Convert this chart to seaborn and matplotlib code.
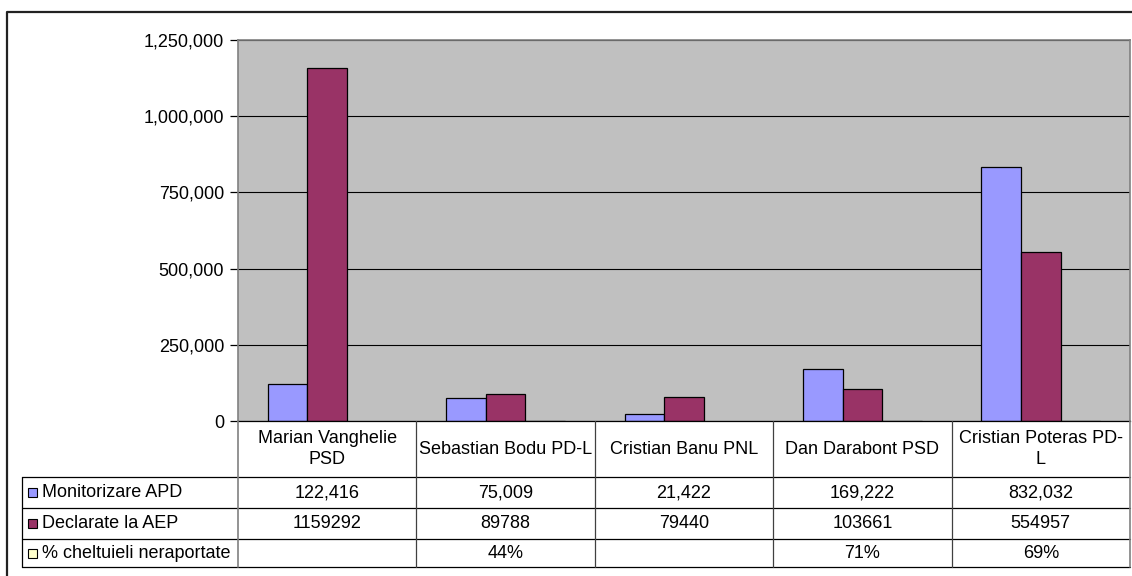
import matplotlib
matplotlib.use("Agg")
import matplotlib.pyplot as plt
from matplotlib.lines import Line2D
from matplotlib.patches import Rectangle
from matplotlib.ticker import FuncFormatter, MultipleLocator
from matplotlib.transforms import blended_transform_factory
import seaborn as sns
import pandas as pd
import numpy as np

# ---- data ----
candidates = ["Marian Vanghelie\nPSD", "Sebastian Bodu PD-L", "Cristian Banu PNL",
              "Dan Darabont PSD", "Cristian Poteras PD-\nL"]
series_names = ["Monitorizare APD", "Declarate la AEP", "% cheltuieli neraportate"]
monitorizare = [122416, 75009, 21422, 169222, 832032]
declarate = [1159292, 89788, 79440, 103661, 554957]
neraportate_pct = [np.nan, 44, np.nan, 71, 69]
colors = ["#9999FF", "#993366", "#FFFFCC"]

sns.set_theme(style="white")
plt.rcParams['font.family'] = ['Liberation Sans', 'DejaVu Sans']
FS = 13

W, H = 1132, 576
fig = plt.figure(figsize=(W / 100, H / 100), dpi=100)
fig.patch.set_facecolor("white")

def fx(x):
    return x / W

def fy(y):
    return 1 - y / H

ax_l, ax_r, ax_t, ax_b = 238, 1130, 40, 421
ax = fig.add_axes([fx(ax_l), fy(ax_b), fx(ax_r - ax_l), (ax_b - ax_t) / H])

rows = []
for i, c in enumerate(candidates):
    rows.append((c, series_names[0], monitorizare[i]))
    rows.append((c, series_names[1], declarate[i]))
    p = neraportate_pct[i]
    rows.append((c, series_names[2], p / 100 if not np.isnan(p) else np.nan))
df = pd.DataFrame(rows, columns=["cand", "series", "value"])

sns.barplot(data=df, x="cand", y="value", hue="series", order=candidates,
            hue_order=series_names, palette=colors, width=0.667,
            edgecolor="black", linewidth=0.9, saturation=1, ax=ax,
            legend=False, errorbar=None)

ax.set_facecolor("#C0C0C0")
ax.set_xlim(-0.5, len(candidates) - 0.5)
ax.set_ylim(0, 1250000)
ax.yaxis.set_major_locator(MultipleLocator(250000))
ax.yaxis.set_major_formatter(FuncFormatter(lambda v, p: f"{int(v):,}"))
ax.grid(axis="y", color="black", linewidth=0.8)
ax.set_axisbelow(True)
ax.set_xticks([])
ax.set_xlabel("")
ax.set_ylabel("")
ax.tick_params(axis="y", left=True, length=6, width=0.9, color="black",
               labelsize=FS, pad=4, labelcolor="black")
for s in ["top", "right"]:
    ax.spines[s].set_color("#808080")
    ax.spines[s].set_linewidth(1.2)
ax.spines["left"].set_color("#808080")
ax.spines["left"].set_linewidth(1.2)
ax.spines["bottom"].set_color("black")
ax.spines["bottom"].set_linewidth(0.9)

# ---- data table ----
tr = blended_transform_factory(ax.transData, fig.transFigure)
tab_left = 22
row_lines = [477, 508, 539, 567]
hdr_top = 421

for y in row_lines:
    fig.add_artist(Line2D([fx(tab_left), fx(ax_r)], [fy(y), fy(y)], color="black", lw=0.9))
n = len(candidates)
for k in range(n + 1):
    xb = k - 0.5
    fig.add_artist(Line2D([xb, xb], [fy(hdr_top), fy(row_lines[-1])], transform=tr,
                          color="#808080" if k in (0, n) else "#404040",
                          lw=1.2 if k in (0, n) else 0.9))
fig.add_artist(Line2D([fx(tab_left), fx(tab_left)], [fy(row_lines[0]), fy(row_lines[-1])],
                      color="black", lw=0.9))

for i, c in enumerate(candidates):
    fig.text(i, fy((hdr_top + row_lines[0]) / 2), c, transform=tr, ha="center", va="center",
             fontsize=FS, color="black", linespacing=1.25)

row_vals = [
    [f"{v:,}" for v in monitorizare],
    [f"{v}" for v in declarate],
    ["" if np.isnan(p) else f"{int(p)}%" for p in neraportate_pct],
]
for r in range(3):
    yc = (row_lines[r] + row_lines[r + 1]) / 2
    fig.add_artist(Rectangle((fx(28), fy(yc + 4.5)), fx(9), 9 / H, facecolor=colors[r],
                             edgecolor="black", lw=0.8))
    fig.text(fx(42), fy(yc), series_names[r], ha="left", va="center", fontsize=FS, color="black")
    for i, s in enumerate(row_vals[r]):
        fig.text(i, fy(yc), s, transform=tr, ha="center", va="center", fontsize=FS, color="black")

# outer chart border
fig.add_artist(Line2D([fx(7), fx(7), fx(W)], [fy(H), fy(12), fy(12)], color="#222222", lw=1.6))

fig.savefig("out.png", dpi=100)
